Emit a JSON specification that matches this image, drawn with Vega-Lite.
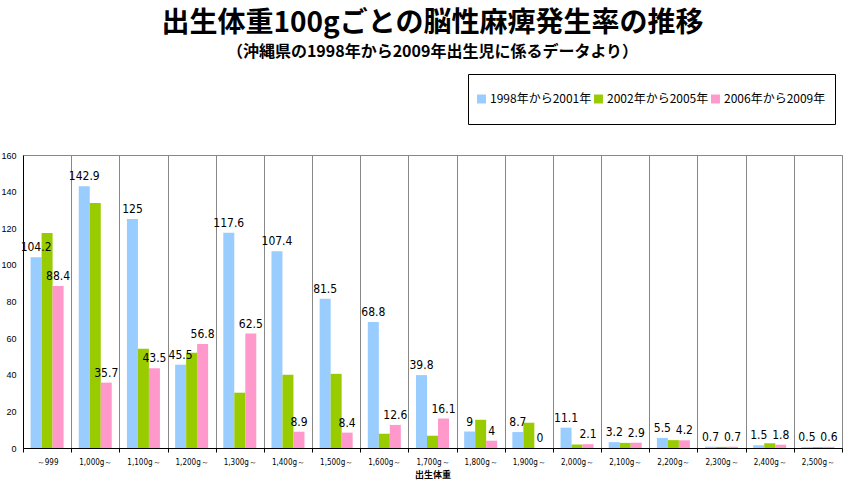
{
  "$schema": "https://vega.github.io/schema/vega-lite/v6.json",
  "width": 819,
  "height": 293,
  "autosize": {"type": "none"},
  "padding": {"left": 23, "top": 155, "right": 6, "bottom": 40},
  "background": "white",
  "title": {
    "text": "出生体重100gごとの脳性麻痺発生率の推移",
    "subtitle": "（沖縄県の1998年から2009年出生児に係るデータより）",
    "font": "Noto Sans CJK JP",
    "fontSize": 28,
    "fontWeight": "bold",
    "color": "black",
    "subtitleFont": "Noto Sans CJK JP",
    "subtitleFontSize": 16,
    "subtitleFontWeight": "bold",
    "subtitleColor": "black",
    "subtitlePadding": 6,
    "anchor": "middle",
    "frame": "group",
    "offset": 14
  },
  "config": {
    "view": {"stroke": "#888888", "strokeWidth": 1}
  },
  "data": {
    "values": [
      {"w": "～999", "s": "1998年から2001年", "v": 104.2},
      {"w": "～999", "s": "2002年から2005年", "v": 117.4},
      {"w": "～999", "s": "2006年から2009年", "v": 88.4},
      {"w": "1,000g～", "s": "1998年から2001年", "v": 142.9},
      {"w": "1,000g～", "s": "2002年から2005年", "v": 133.8},
      {"w": "1,000g～", "s": "2006年から2009年", "v": 35.7},
      {"w": "1,100g～", "s": "1998年から2001年", "v": 125},
      {"w": "1,100g～", "s": "2002年から2005年", "v": 54.2},
      {"w": "1,100g～", "s": "2006年から2009年", "v": 43.5},
      {"w": "1,200g～", "s": "1998年から2001年", "v": 45.5},
      {"w": "1,200g～", "s": "2002年から2005年", "v": 52.0},
      {"w": "1,200g～", "s": "2006年から2009年", "v": 56.8},
      {"w": "1,300g～", "s": "1998年から2001年", "v": 117.6},
      {"w": "1,300g～", "s": "2002年から2005年", "v": 30.2},
      {"w": "1,300g～", "s": "2006年から2009年", "v": 62.5},
      {"w": "1,400g～", "s": "1998年から2001年", "v": 107.4},
      {"w": "1,400g～", "s": "2002年から2005年", "v": 40.0},
      {"w": "1,400g～", "s": "2006年から2009年", "v": 8.9},
      {"w": "1,500g～", "s": "1998年から2001年", "v": 81.5},
      {"w": "1,500g～", "s": "2002年から2005年", "v": 40.5},
      {"w": "1,500g～", "s": "2006年から2009年", "v": 8.4},
      {"w": "1,600g～", "s": "1998年から2001年", "v": 68.8},
      {"w": "1,600g～", "s": "2002年から2005年", "v": 7.8},
      {"w": "1,600g～", "s": "2006年から2009年", "v": 12.6},
      {"w": "1,700g～", "s": "1998年から2001年", "v": 39.8},
      {"w": "1,700g～", "s": "2002年から2005年", "v": 6.7},
      {"w": "1,700g～", "s": "2006年から2009年", "v": 16.1},
      {"w": "1,800g～", "s": "1998年から2001年", "v": 9},
      {"w": "1,800g～", "s": "2002年から2005年", "v": 15.4},
      {"w": "1,800g～", "s": "2006年から2009年", "v": 4},
      {"w": "1,900g～", "s": "1998年から2001年", "v": 8.7},
      {"w": "1,900g～", "s": "2002年から2005年", "v": 13.8},
      {"w": "1,900g～", "s": "2006年から2009年", "v": 0},
      {"w": "2,000g～", "s": "1998年から2001年", "v": 11.1},
      {"w": "2,000g～", "s": "2002年から2005年", "v": 1.9},
      {"w": "2,000g～", "s": "2006年から2009年", "v": 2.1},
      {"w": "2,100g～", "s": "1998年から2001年", "v": 3.2},
      {"w": "2,100g～", "s": "2002年から2005年", "v": 2.8},
      {"w": "2,100g～", "s": "2006年から2009年", "v": 2.9},
      {"w": "2,200g～", "s": "1998年から2001年", "v": 5.5},
      {"w": "2,200g～", "s": "2002年から2005年", "v": 4.3},
      {"w": "2,200g～", "s": "2006年から2009年", "v": 4.2},
      {"w": "2,300g～", "s": "1998年から2001年", "v": 0.7},
      {"w": "2,300g～", "s": "2002年から2005年", "v": 0.6},
      {"w": "2,300g～", "s": "2006年から2009年", "v": 0.7},
      {"w": "2,400g～", "s": "1998年から2001年", "v": 1.5},
      {"w": "2,400g～", "s": "2002年から2005年", "v": 2.6},
      {"w": "2,400g～", "s": "2006年から2009年", "v": 1.8},
      {"w": "2,500g～", "s": "1998年から2001年", "v": 0.5},
      {"w": "2,500g～", "s": "2002年から2005年", "v": 0.5},
      {"w": "2,500g～", "s": "2006年から2009年", "v": 0.6}
    ]
  },
  "encoding": {
    "x": {
      "field": "w",
      "type": "nominal",
      "sort": null,
      "scale": {
        "domain": ["～999", "1,000g～", "1,100g～", "1,200g～", "1,300g～", "1,400g～", "1,500g～", "1,600g～", "1,700g～", "1,800g～", "1,900g～", "2,000g～", "2,100g～", "2,200g～", "2,300g～", "2,400g～", "2,500g～"],
        "paddingInner": 0,
        "paddingOuter": 0
      },
      "axis": {
        "tickBand": "extent",
        "grid": true,
        "gridColor": "#888888",
        "gridOpacity": 1,
        "gridWidth": 1,
        "ticks": true,
        "tickSize": 4,
        "tickColor": "black",
        "domainColor": "black",
        "labelAngle": 0,
        "labelFont": "DejaVu Sans Condensed, Liberation Sans",
        "labelFontSize": 8,
        "labelColor": "black",
        "labelPadding": 6,
        "title": "出生体重",
        "titleFont": "Noto Sans CJK JP",
        "titleFontSize": 9,
        "titleFontWeight": "bold",
        "titleColor": "black",
        "titlePadding": 4
      }
    },
    "y": {
      "field": "v",
      "type": "quantitative",
      "stack": null,
      "scale": {"domain": [0, 160], "nice": false},
      "axis": {
        "values": [0, 20, 40, 60, 80, 100, 120, 140, 160],
        "ticks": false,
        "grid": false,
        "title": null,
        "labelFont": "Liberation Sans",
        "labelFontSize": 9,
        "labelColor": "black",
        "labelPadding": 7,
        "domainColor": "black"
      }
    },
    "xOffset": {
      "field": "s",
      "type": "nominal",
      "scale": {
        "domain": ["1998年から2001年", "2002年から2005年", "2006年から2009年"],
        "paddingInner": 0,
        "paddingOuter": 0.69
      }
    }
  },
  "layer": [
    {
      "mark": {"type": "bar"},
      "encoding": {
        "color": {
          "field": "s",
          "type": "nominal",
          "scale": {
            "domain": ["1998年から2001年", "2002年から2005年", "2006年から2009年"],
            "range": ["#99CCFF", "#99CC00", "#FF99CC"]
          },
          "legend": {
            "title": null,
            "orient": "none",
            "legendX": 445,
            "legendY": -81,
            "direction": "horizontal",
            "symbolType": "M0,-1M-1,-0.28H-0.44V0.28H-1ZM0,1",
            "symbolSize": 1024,
            "symbolStrokeWidth": 0,
            "symbolOpacity": 1,
            "labelFont": "Noto Sans CJK JP",
            "labelFontSize": 12,
            "labelColor": "black",
            "labelOffset": -19,
            "columnPadding": 2,
            "padding": 9,
            "strokeColor": "black",
            "fillColor": "white"
          }
        }
      }
    },
    {
      "transform": [{"filter": "datum.s !== '2002年から2005年'"}],
      "mark": {
        "type": "text",
        "baseline": "bottom",
        "align": "center",
        "dy": -3,
        "font": "DejaVu Sans Condensed, Liberation Sans",
        "fontSize": 12,
        "color": "black"
      },
      "encoding": {
        "text": {"field": "v", "type": "quantitative"}
      }
    }
  ]
}
